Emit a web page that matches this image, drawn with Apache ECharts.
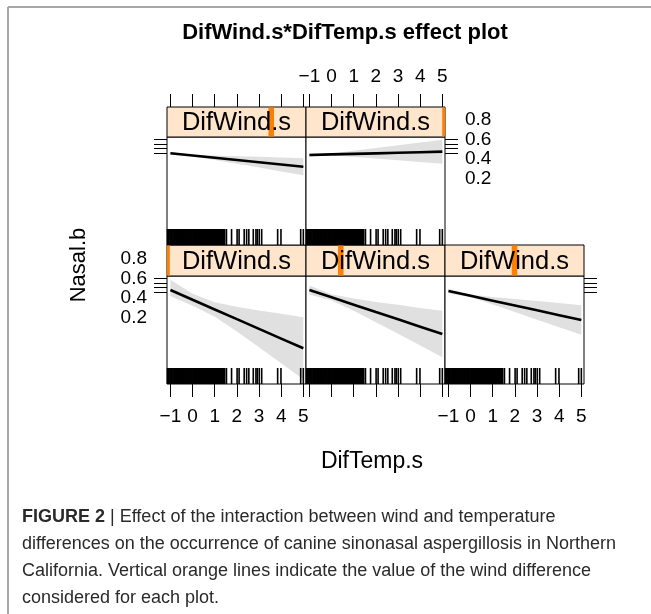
<!DOCTYPE html>
<html><head><meta charset="utf-8">
<script src="https://cdn.jsdelivr.net/npm/echarts@6/dist/echarts.min.js"></script>
<style>html,body{margin:0;padding:0;background:#fff}#c{width:651px;height:614px}</style>
</head><body><div id="c"></div>
<script>
// ---------------- data ----------------
const tempTicks = [-1, 0, 1, 2, 3, 4, 5];           // DifTemp.s tick labels
const probTicks = [0.2, 0.4, 0.6, 0.8];             // Nasal.b tick labels (probability)
const tempGrid  = [-1, 0, 1, 2, 3, 4, 5];           // x where fit / band were read
const windPos   = [0, 0.25, 0.5, 0.75, 1];          // orange strip marker (fraction of DifWind.s range)

// fitted effect and confidence band on the logit scale, one array per panel
const fitW0    = [-0.87, -2.78, -4.68, -6.59, -8.49, -10.40, -12.30];
const upperW0  = [ 1.13, -1.60, -3.25, -4.15, -4.87,  -5.55,  -6.20];
const lowerW0  = [-2.05, -3.96, -6.11, -9.03, -12.11, -15.25, -18.40];

const fitW25   = [-0.87, -2.31, -3.75, -5.19, -6.62, -8.06, -9.50];
const upperW25 = [ 0.03, -1.71, -2.56, -3.20, -3.78, -4.38, -4.95];
const lowerW25 = [-1.77, -2.91, -4.94, -7.18, -9.46, -11.74, -14.05];

const fitW50   = [-1.07, -2.01, -2.96, -3.91, -4.86, -5.80, -6.75];
const upperW50 = [-0.63, -1.73, -2.22, -2.63, -3.04, -3.44, -3.85];
const lowerW50 = [-1.51, -2.29, -3.70, -5.19, -6.68, -8.16, -9.65];

const fitW75   = [-1.32, -1.76, -2.20, -2.64, -3.07, -3.51, -3.95];
const upperW75 = [-1.06, -1.61, -1.77, -1.90, -2.02, -2.14, -2.27];
const lowerW75 = [-1.58, -1.91, -2.63, -3.38, -4.12, -4.88, -5.63];

const fitW100   = [-1.65, -1.54, -1.43, -1.33, -1.22, -1.11, -1.00];
const upperW100 = [-1.31, -1.35, -0.84, -0.30,  0.25,  0.79,  1.35];
const lowerW100 = [-1.99, -1.73, -2.02, -2.36, -2.69, -3.01, -3.35];

// rug of observed DifTemp.s values
const rugTemp = [-1.13,-1.10,-1.06,-1.02,-0.99,-0.95,-0.92,-0.88,-0.84,-0.81,-0.77,-0.74,-0.70,-0.67,-0.63,-0.59,-0.56,
  -0.52,-0.49,-0.45,-0.41,-0.38,-0.34,-0.31,-0.27,-0.24,-0.20,-0.16,-0.13,-0.09,-0.06,-0.02,0.02,0.05,0.09,0.12,
  0.16,0.19,0.23,0.27,0.30,0.34,0.37,0.41,0.44,0.48,0.52,0.55,0.59,0.62,0.66,0.69,0.73,0.77,0.80,0.84,0.87,0.91,
  0.94,0.98,1.02,1.05,1.09,1.12,1.16,1.19,1.23,1.27,1.30,1.34,1.37,1.41,1.45,
  1.53,1.76,2.01,2.10,2.33,2.44,2.54,2.74,2.86,2.92,3.01,3.12,3.84,3.99,4.88,5.00];

// ---------------- layout ----------------
const FONT = "'Liberation Sans', Arial, Helvetica, sans-serif";
const X_MIN = -1.154, X_MAX = 5.12, Y_MIN = -19.3, Y_MAX = 1.876;
const colLeft = [167, 306, 445], PW = 139;
const rows = [{strip: 107, top: 137, bottom: 245}, {strip: 245, top: 276, bottom: 384}];
const logit = p => Math.log(p / (1 - p));
const tickLogit = probTicks.map(logit);
const fmtTemp = v => (v < 0 ? '\u2212' + (-v) : String(v));

const panels = [
  {col: 0, row: 1, fit: fitW0,   up: upperW0,   lo: lowerW0,   wind: windPos[0], left: true,  bottom: true, bottomLab: true},
  {col: 1, row: 1, fit: fitW25,  up: upperW25,  lo: lowerW25,  wind: windPos[1], bottom: true},
  {col: 2, row: 1, fit: fitW50,  up: upperW50,  lo: lowerW50,  wind: windPos[2], right: true, bottom: true, bottomLab: true},
  {col: 0, row: 0, fit: fitW75,  up: upperW75,  lo: lowerW75,  wind: windPos[3], left: true,  top: true},
  {col: 1, row: 0, fit: fitW100, up: upperW100, lo: lowerW100, wind: windPos[4], right: true, top: true, topLab: true}
];

const grid = [], xAxis = [], yAxis = [], series = [];
const tickStyle = {lineStyle: {color: '#000', width: 1}, length: 13, inside: false};
const labStyle = {color: '#000', fontSize: 19, fontFamily: FONT};
const noLine = {show: false, onZero: false};

panels.forEach((p) => {
  const r = rows[p.row];
  const gi = grid.length;
  grid.push({left: colLeft[p.col], top: r.top, width: PW, height: r.bottom - r.top,
    show: true, borderColor: '#000', borderWidth: 1, backgroundColor: '#fff', containLabel: false});
  grid.push({left: colLeft[p.col], top: r.strip, width: PW, height: r.top - r.strip,
    show: true, borderColor: '#000', borderWidth: 1, backgroundColor: '#ffe5cc', containLabel: false});
  // panel axes
  const xi = xAxis.length;
  xAxis.push({type: 'value', gridIndex: gi, min: X_MIN, max: X_MAX, position: 'bottom',
    axisLine: noLine, splitLine: {show: false},
    axisTick: Object.assign({show: !!p.bottom, customValues: tempTicks}, tickStyle),
    axisLabel: Object.assign({show: !!p.bottomLab, customValues: tempTicks, formatter: fmtTemp, margin: 23}, labStyle)});
  const yi = yAxis.length;
  yAxis.push({type: 'value', gridIndex: gi, min: Y_MIN, max: Y_MAX, position: p.right ? 'right' : 'left',
    axisLine: noLine, splitLine: {show: false},
    axisTick: Object.assign({show: !!(p.left || p.right), customValues: tickLogit}, tickStyle),
    axisLabel: {show: false}});
  // strip axes
  const xw = xAxis.length;
  xAxis.push({type: 'value', gridIndex: gi + 1, min: 0, max: 1, position: 'bottom', show: false, axisLine: noLine});
  xAxis.push({type: 'value', gridIndex: gi + 1, min: X_MIN, max: X_MAX, position: 'top',
    axisLine: noLine, splitLine: {show: false},
    axisTick: Object.assign({show: !!p.top, customValues: tempTicks}, tickStyle),
    axisLabel: Object.assign({show: !!p.topLab, customValues: tempTicks, formatter: fmtTemp, margin: 20.5}, labStyle)});
  const ys = yAxis.length;
  yAxis.push({type: 'value', gridIndex: gi + 1, min: 0, max: 1, show: false, axisLine: noLine});

  // confidence band
  const bandPts = tempGrid.map((x, k) => [x, p.up[k]]).concat(tempGrid.map((x, k) => [x, p.lo[k]]).reverse());
  series.push({type: 'custom', xAxisIndex: xi, yAxisIndex: yi, silent: true, z: 1,
    data: [[0]],
    renderItem: (params, api) => ({type: 'polygon', shape: {points: bandPts.map(d => api.coord(d))},
      style: {fill: '#e0e0e0'}})});
  // fit line
  series.push({type: 'line', xAxisIndex: xi, yAxisIndex: yi, silent: true, z: 3, symbol: 'none',
    lineStyle: {color: '#000', width: 2.6}, data: tempGrid.map((x, k) => [x, p.fit[k]])});
  // rug
  series.push({type: 'custom', xAxisIndex: xi, yAxisIndex: yi, silent: true, z: 2,
    data: rugTemp.map(v => [v]),
    renderItem: (params, api) => {
      const b = api.coord([api.value(0), Y_MIN]);
      return {type: 'line', shape: {x1: b[0], y1: b[1], x2: b[0], y2: b[1] - 16},
        style: {stroke: '#000', lineWidth: 1.6}};
    }});
  // strip marker
  series.push({type: 'custom', xAxisIndex: xw, yAxisIndex: ys, silent: true, z: 2,
    data: [[p.wind]],
    renderItem: (params, api) => {
      const cs = params.coordSys;
      const c = api.coord([api.value(0), 0]);
      const x0 = Math.max(cs.x, c[0] - 2.8), x1 = Math.min(cs.x + cs.width, c[0] + 2.8);
      return {type: 'rect', shape: {x: x0, y: cs.y + 0.5, width: x1 - x0, height: cs.height - 1},
        style: {fill: '#ff7f00'}};
    }});
});

// separate label axes for the spread-out Nasal.b labels
function labelAxis(left, width, top, pos, margin) {
  const gi = grid.length;
  grid.push({left: left, top: top, width: width, height: 58.3, show: false});
  xAxis.push({type: 'value', gridIndex: gi, show: false, min: 0, max: 1, axisLine: noLine});
  yAxis.push({type: 'value', gridIndex: gi, min: 0.2, max: 0.8, position: pos,
    axisLine: noLine, axisTick: {show: false}, splitLine: {show: false},
    axisLabel: Object.assign({customValues: probTicks, formatter: v => v.toFixed(1), margin: margin}, labStyle)});
}
labelAxis(155, 12, rows[1].top - 17, 'left', 8);
labelAxis(445, 13, rows[0].top - 17, 'right', 7);

const capStyle = {fontSize: 18, fontFamily: FONT, fill: '#2a2a2a'};
const graphic = [
  {type: 'line', shape: {x1: 8, y1: 7, x2: 651, y2: 7}, style: {stroke: '#a8a8a8', lineWidth: 2}},
  {type: 'line', shape: {x1: 8, y1: 7, x2: 8, y2: 614}, style: {stroke: '#a8a8a8', lineWidth: 2}},
  {type: 'text', x: 345, y: 33, style: {text: 'DifWind.s*DifTemp.s effect plot', fontSize: 22, fontWeight: 'bold',
    fontFamily: FONT, fill: '#000', align: 'center', verticalAlign: 'middle'}},
  {type: 'text', x: 372, y: 462, style: {text: 'DifTemp.s', fontSize: 23, fontFamily: FONT, fill: '#000',
    align: 'center', verticalAlign: 'middle'}},
  {type: 'text', x: 79, y: 265, rotation: Math.PI / 2, style: {text: 'Nasal.b', fontSize: 22, fontFamily: FONT,
    fill: '#000', align: 'center', verticalAlign: 'middle'}},
  {type: 'text', x: 22, y: 517, style: Object.assign({
    text: '{b|FIGURE 2} | Effect of the interaction between wind and temperature',
    rich: {b: {fontWeight: 'bold', fontSize: 18, fontFamily: FONT, fill: '#2a2a2a'}},
    verticalAlign: 'middle'}, capStyle)},
  {type: 'text', x: 22, y: 544, style: Object.assign({text: 'differences on the occurrence of canine sinonasal aspergillosis in Northern', verticalAlign: 'middle'}, capStyle)},
  {type: 'text', x: 22, y: 571, style: Object.assign({text: 'California. Vertical orange lines indicate the value of the wind difference', verticalAlign: 'middle'}, capStyle)},
  {type: 'text', x: 22, y: 598, style: Object.assign({text: 'considered for each plot.', verticalAlign: 'middle'}, capStyle)}
];
// strip labels
panels.forEach(p => {
  const r = rows[p.row];
  graphic.push({type: 'text', x: colLeft[p.col] + PW / 2, y: (r.strip + r.top) / 2 + 1, z: 100,
    style: {text: 'DifWind.s', fontSize: 25.5, fontFamily: FONT, fill: '#000', align: 'center', verticalAlign: 'middle'}});
});

const chart = echarts.init(document.getElementById('c'), null, {renderer: 'canvas'});
chart.setOption({animation: false, backgroundColor: '#fff', grid, xAxis, yAxis, series, graphic});
</script>
</body></html>
